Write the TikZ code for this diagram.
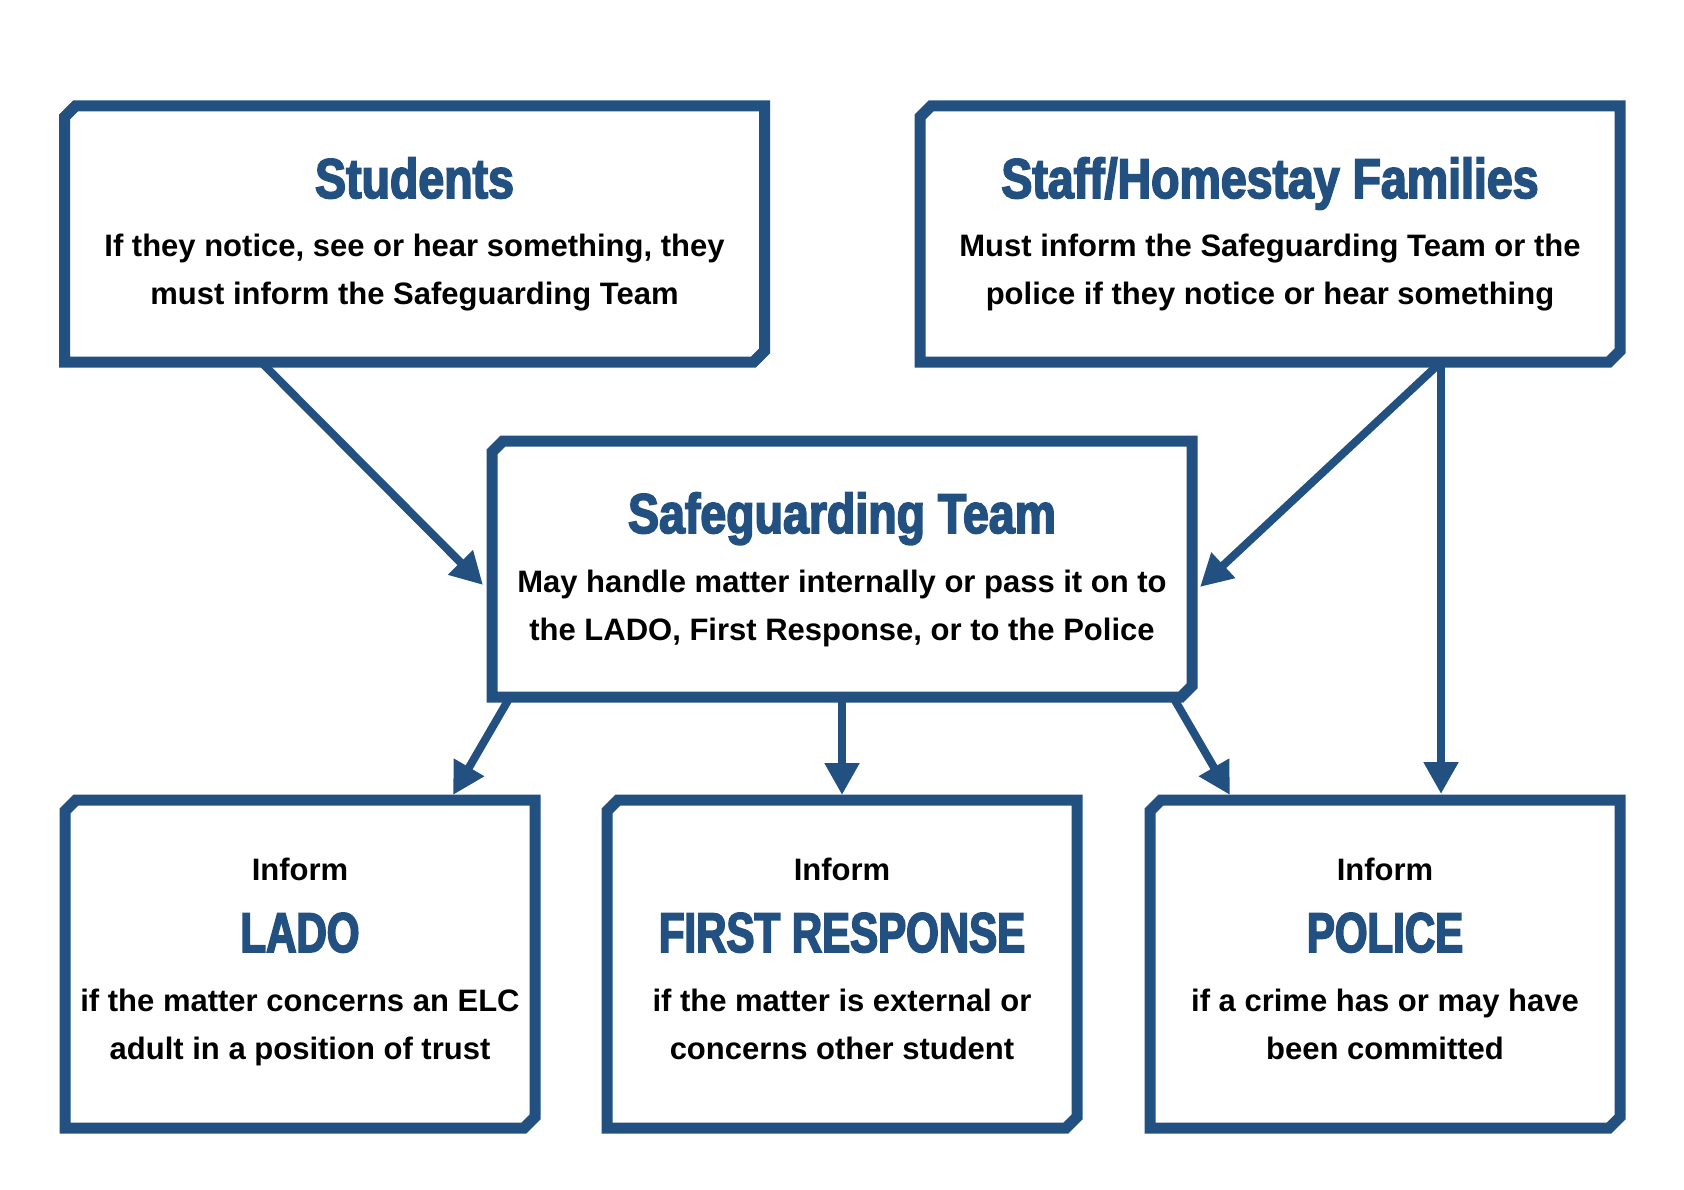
\documentclass[tikz,border=0pt]{standalone}
\usepackage{fontspec}
\usetikzlibrary{arrows.meta,calc}
\newfontfamily\bodyfont{Liberation Sans}
\newfontfamily\ttlfont[FakeStretch=0.83,FakeBold=3]{Liberation Sans}
\newfontfamily\capfont[FakeStretch=0.75,FakeBold=3]{Liberation Sans}
\definecolor{sgblue}{RGB}{34,80,128}
\newcommand\chbox[1]{%
  \draw[boxline] ([yshift=-11pt]#1.north west) -- ([xshift=11pt]#1.north west) -- (#1.north east)
    -- ([yshift=11pt]#1.south east) -- ([xshift=-11pt]#1.south east) -- (#1.south west) -- cycle;}
\begin{document}
\begin{tikzpicture}[x=1pt,y=-1pt,
  frame/.style={draw=none,inner sep=0pt,outer sep=0pt,rectangle},
  bigbox/.style={frame,minimum width=700pt,minimum height=256pt},
  smallbox/.style={frame,minimum width=470pt,minimum height=328pt},
  boxline/.style={draw=sgblue,line width=11pt,line join=miter},
  txt/.style={anchor=base,inner sep=0pt,font=\bodyfont\bfseries\fontsize{31}{38}\selectfont,text=black},
  ttl/.style={anchor=base,inner sep=0pt,font=\ttlfont\bfseries\fontsize{56}{60}\selectfont,text=sgblue},
  cttl/.style={anchor=base,inner sep=0pt,font=\capfont\bfseries\fontsize{56}{60}\selectfont,text=sgblue},
  arr/.style={draw=sgblue,line width=8pt,-{Triangle[length=32pt,width=33pt]}}]
\fill[white] (0,0) rectangle (1684,1190);
\useasboundingbox (0,0) rectangle (1684,1190);
% boxes
\node[bigbox] (stu) at (414.5,234) {};
\node[bigbox] (staff) at (1270,234) {};
\node[bigbox] (sg) at (842,569) {};
\node[smallbox] (lado) at (300,964) {};
\node[smallbox] (fr) at (842,964) {};
\node[smallbox] (pol) at (1385,964) {};
\chbox{stu}\chbox{staff}\chbox{sg}\chbox{lado}\chbox{fr}\chbox{pol}
% texts
\node[ttl] (stuT) at (414.5,198) {Students};
\node[txt] (stuA) at (414.5,257) {If they notice, see or hear something, they};
\node[txt] (stuB) at (414.5,305) {must inform the Safeguarding Team};
\node[ttl] (staffT) at (1270,198) {Staff/Homestay Families};
\node[txt] (staffA) at (1270,257) {Must inform the Safeguarding Team or the};
\node[txt] (staffB) at (1270,305) {police if they notice or hear something};
\node[ttl] (sgT) at (842,533) {Safeguarding Team};
\node[txt] (sgA) at (842,592) {May handle matter internally or pass it on to};
\node[txt] (sgB) at (842,640) {the LADO, First Response, or to the Police};
\node[txt] (ladoI) at (300,880) {Inform};
\node[cttl] (ladoT) at (300,952) {LADO};
\node[txt] (ladoA) at (300,1011) {if the matter concerns an ELC};
\node[txt] (ladoB) at (300,1059) {adult in a position of trust};
\node[txt] (frI) at (842,880) {Inform};
\node[cttl] (frT) at (842,952) {FIRST RESPONSE};
\node[txt] (frA) at (842,1011) {if the matter is external or};
\node[txt] (frB) at (842,1059) {concerns other student};
\node[txt] (polI) at (1385,880) {Inform};
\node[cttl] (polT) at (1385,952) {POLICE};
\node[txt] (polA) at (1385,1011) {if a crime has or may have};
\node[txt] (polB) at (1385,1059) {been committed};
% arrows
\draw[arr] ([xshift=-153.5pt]stu.south) -- ([xshift=-9pt,yshift=-16pt]sg.west);
\draw[arr] ([xshift=171pt]staff.south) -- ([xshift=8pt,yshift=-18pt]sg.east);
\draw[arr] ([xshift=171pt]staff.south) -- ([xshift=56pt,yshift=6pt]pol.north);
\draw[arr] ([xshift=-332pt]sg.south) -- ([xshift=153pt,yshift=5pt]lado.north);
\draw[arr] (sg.south) -- ([yshift=5pt]fr.north);
\draw[arr] ([xshift=331pt]sg.south) -- ([xshift=-155pt,yshift=5pt]pol.north);
\end{tikzpicture}
\end{document}
